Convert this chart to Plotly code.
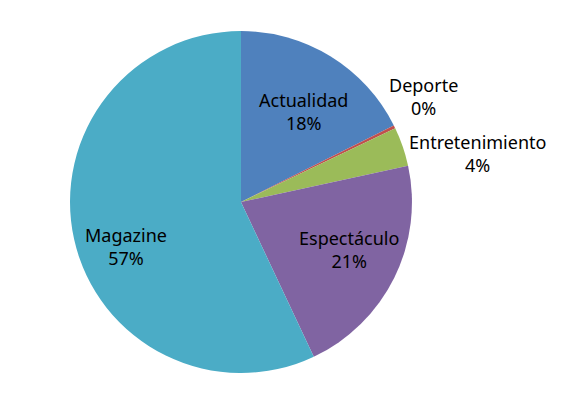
import plotly.graph_objects as go

categories = ['Actualidad', 'Deporte', 'Entretenimiento', 'Espectáculo', 'Magazine']
shares = [17.6, 0.3, 3.7, 21.4, 57.0]
colors = ['#4F81BD', '#C0504D', '#9BBB59', '#8064A2', '#4BACC6']

# where each data label sits (paper coords), like Excel's best-fit labels
label_x = [0.51, 0.716, 0.81, 0.588, 0.203]
label_y = [0.75, 0.786, 0.646, 0.415, 0.422]

fig = go.Figure(go.Pie(
    labels=categories,
    values=shares,
    sort=False,
    direction='clockwise',
    rotation=0,
    marker=dict(colors=colors, line=dict(width=0)),
    textinfo='none',
    domain=dict(x=[0.1069, 0.6965], y=[0.114, 0.944]),
    showlegend=False,
    hoverinfo='label+percent',
))

total = sum(shares)
for name, val, x, y in zip(categories, shares, label_x, label_y):
    fig.add_annotation(
        x=x, y=y, xref='paper', yref='paper',
        text=f'{name}<br>{round(val / total * 100)}%',
        showarrow=False,
        font=dict(family='Noto Sans', size=18, color='#000000'),
        xanchor='center', yanchor='middle',
    )

fig.update_layout(
    width=580,
    height=412,
    margin=dict(l=0, r=0, t=0, b=0),
    paper_bgcolor='white',
)

fig.write_html("out.html")
